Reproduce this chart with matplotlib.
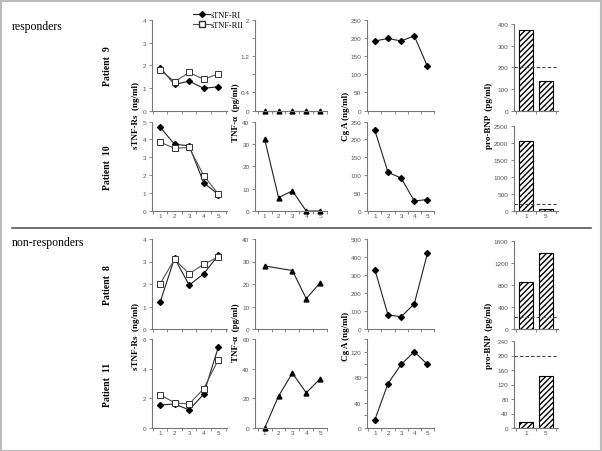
import matplotlib
matplotlib.use("Agg")
import matplotlib.pyplot as plt
from matplotlib.lines import Line2D
import numpy as np

# visit numbers
visits = [1, 2, 3, 4, 5]

# sTNF-RI / sTNF-RII (ng/ml)
p9_rI = [1.9, 1.15, 1.3, 0.98, 1.05]
p9_rII = [1.8, 1.27, 1.68, 1.38, 1.62]
p10_rI = [4.7, 3.72, 3.65, 1.58, 0.92]
p10_rII = [3.85, 3.5, 3.55, 1.98, 0.95]
p8_rI = [1.18, 3.15, 1.95, 2.45, 3.28]
p8_rII = [2.0, 3.1, 2.45, 2.88, 3.2]
p11_rI = [1.55, 1.62, 1.22, 2.28, 5.45]
p11_rII = [2.25, 1.7, 1.62, 2.65, 4.6]

# TNF-alpha (pg/ml)
p9_tnf = [0, 0, 0, 0, 0]
p10_tnf = [32, 6, 9, 0, 0]
p8_tnf_visits = [1, 3, 4, 5]
p8_tnf = [28, 26, 13.5, 20.5]
p11_tnf = [0, 21.5, 37, 23.7, 33.2]

# Cg A (ng/ml)
p9_cga = [192, 199, 192, 206, 122]
p10_cga = [225, 108, 92, 28, 32]
p8_cga = [330, 78, 68, 140, 420]
p11_cga = [13, 70, 100, 120, 100]

# pro-BNP (pg/ml) at visit 1 and 5
bnp_labels = ["1", "5"]
p9_bnp = [370, 135]
p10_bnp = [2060, 45]
p8_bnp = [850, 1390]
p11_bnp = [16, 143]
bnp_cutoff = [200, 210, 225, 200]

patients = ["Patient  9", "Patient  10", "Patient  8", "Patient  11"]

W, H = 602, 452
fig = plt.figure(figsize=(W / 100, H / 100), dpi=100)
fig.patch.set_facecolor("white")

serif = "Liberation Serif"
sans = "Liberation Sans"
tick_col = "#555555"
line_col = "#222222"


def px_axes(x0, y0, x1, y1):
    return fig.add_axes([x0 / W, 1 - y1 / H, (x1 - x0) / W, (y1 - y0) / H])


def style(ax, show_xlabels, xlim, labels=None):
    for s in ["top", "right"]:
        ax.spines[s].set_visible(False)
    for s in ["left", "bottom"]:
        ax.spines[s].set_color("#777777")
        ax.spines[s].set_linewidth(0.8)
    ax.tick_params(axis="both", which="both", labelsize=4.6, colors="#777777",
                   labelcolor=tick_col, length=2.5, width=0.6, pad=1.5)
    ax.set_xlim(*xlim)
    if labels is None:
        ax.set_xticks(visits)
        ax.set_xticks(np.arange(0.5, 6.0, 1.0), minor=True)
        ax.tick_params(axis="x", which="major", length=0)
        if show_xlabels:
            ax.set_xticklabels([str(v) for v in visits])
        else:
            ax.set_xticklabels([])
    for t in ax.get_xticklabels() + ax.get_yticklabels():
        t.set_fontfamily(sans)


rows = [(21, 111.5), (122.5, 212), (240, 330), (340, 429)]
cols = [(152, 227), (255, 327), (367, 434), (514, 558)]

rI = [p9_rI, p10_rI, p8_rI, p11_rI]
rII = [p9_rII, p10_rII, p8_rII, p11_rII]
tnf_x = [visits, visits, p8_tnf_visits, visits]
tnf = [p9_tnf, p10_tnf, p8_tnf, p11_tnf]
cga = [p9_cga, p10_cga, p8_cga, p11_cga]
bnp = [p9_bnp, p10_bnp, p8_bnp, p11_bnp]

col1_lim = [(4, 1), (5, 1), (4, 1), (6, 2)]
col2_lim = [(2, 0.4), (40, 10), (40, 10), (60, 20)]
col3_lim = [(250, 50), (250, 50), (500, 100), (140, 40)]
col4_lim = [(400, 100), (2500, 500), (1600, 400), (240, 40)]

for i, (y0, y1) in enumerate(rows):
    bottom_row = i in (1, 3)

    # sTNF-Rs
    ax = px_axes(cols[0][0], y0, cols[0][1], y1)
    ax.plot(visits, rI[i], color=line_col, lw=0.8, marker="D", ms=3,
            mfc="black", mec="black")
    ax.plot(visits, rII[i], color="#555555", lw=0.8, marker="s", ms=4.5,
            mfc="white", mec="#333333", mew=0.7)
    top, step = col1_lim[i]
    ax.set_ylim(0, top)
    ax.set_yticks(np.arange(0, top + 0.01, step))
    style(ax, bottom_row, (0.45, 5.6))

    # TNF-alpha
    ax = px_axes(cols[1][0], y0, cols[1][1], y1)
    ax.plot(tnf_x[i], tnf[i], color=line_col, lw=0.8, marker="^", ms=3.5,
            mfc="black", mec="black", clip_on=False)
    top, step = col2_lim[i]
    ax.set_ylim(0, top)
    ticks = np.arange(0, top + 0.001, step)
    ax.set_yticks(ticks)
    if i == 0:
        ax.set_yticklabels(["0", "0.4", "", "1.2", "", "2"])
    style(ax, bottom_row, (0.3, 5.35))

    # Cg A
    ax = px_axes(cols[2][0], y0, cols[2][1], y1)
    ax.plot(visits, cga[i], color=line_col, lw=0.8, marker="D", ms=3,
            mfc="black", mec="black", clip_on=False)
    top, step = col3_lim[i]
    ax.set_ylim(0, top)
    ax.set_yticks(np.arange(0, top + 0.01, step))
    if i == 3:
        ax.set_yticks(np.arange(0, 141, 20), minor=True)
    style(ax, bottom_row, (0.4, 5.45))

    # pro-BNP
    top, step = col4_lim[i]
    yt = y0 + (4 if i in (0, 1) else 2)
    ax = px_axes(cols[3][0], yt, cols[3][1], y1)
    ax.bar([0, 1], bnp[i], width=0.7, color="white", edgecolor="black",
           linewidth=0.8, hatch="//////", zorder=2)
    ax.axhline(bnp_cutoff[i], color="#444444", lw=0.8, ls=(0, (3, 2)), zorder=3)
    ax.set_ylim(0, top)
    ax.set_yticks(np.arange(0, top + 0.01, step))
    ax.set_xticks([0, 1])
    ax.set_xticks([-0.5, 0.5, 1.5], minor=True)
    style(ax, True, (-0.6, 1.6), labels=bnp_labels)
    ax.tick_params(axis="x", which="major", length=0)
    ax.set_xticklabels(bnp_labels if bottom_row else [])
    for t in ax.get_xticklabels():
        t.set_fontfamily(sans)

    # patient label
    fig.text(107 / W, 1 - ((y0 + y1) / 2) / H, patients[i], rotation=90,
             ha="center", va="center", fontfamily=serif, fontweight="bold",
             fontsize=7)

# shared y labels
for yc in (116, 336):
    fig.text(136 / W, 1 - yc / H, "sTNF-Rs  (ng/ml)", rotation=90, ha="center",
             va="center", fontfamily=serif, fontweight="bold", fontsize=6.5)
    fig.text(236.5 / W, 1 - (yc - 3) / H, "TNF-\u03b1  (pg/ml)", rotation=90,
             ha="center", va="center", fontfamily=serif, fontweight="bold",
             fontsize=6.5)
    fig.text(346 / W, 1 - yc / H, "Cg A (ng/ml)", rotation=90, ha="center",
             va="center", fontfamily=serif, fontweight="bold", fontsize=6.5)
    fig.text(489 / W, 1 - yc / H, "pro-BNP  (pg/ml)", rotation=90,
             ha="center", va="center", fontfamily=serif, fontweight="bold",
             fontsize=6.5)

fig.text(12 / W, 1 - 27 / H, "responders", fontfamily=serif, fontsize=8.5,
         va="center", ha="left")
fig.text(12 / W, 1 - 243 / H, "non-responders", fontfamily=serif, fontsize=8.5,
         va="center", ha="left")

# legend
handles = [
    Line2D([], [], color=line_col, lw=0.8, marker="D", ms=3, mfc="black",
           mec="black", label="sTNF-RI"),
    Line2D([], [], color="#555555", lw=0.8, marker="s", ms=4, mfc="white",
           mec="#333333", label="sTNF-RII"),
]
fig.legend(handles=handles, loc="center left",
           bbox_to_anchor=(190 / W, 1 - 21 / H), frameon=False,
           prop={"family": serif, "size": 6}, handlelength=2.0,
           handletextpad=0.1, labelspacing=0.3, borderaxespad=0)

# separator and border
fig.add_artist(Line2D([12 / W, 591 / W], [1 - 229 / H, 1 - 229 / H],
                      color="#555555", lw=1.2))
fig.add_artist(plt.Rectangle((0.5 / W, 0.5 / H), 1 - 2 / W, 1 - 2 / H,
                             transform=fig.transFigure, fill=False,
                             edgecolor="#bbbbbb", lw=1.5))

fig.savefig("out.png", dpi=100)
